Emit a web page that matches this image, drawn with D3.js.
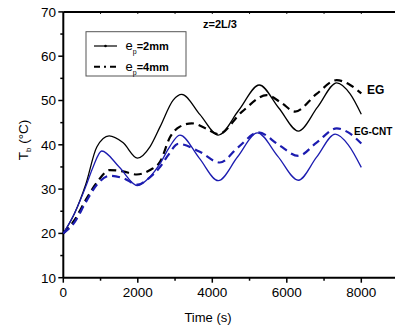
<!DOCTYPE html>
<html>
<head>
<meta charset="utf-8">
<script src="https://cdn.jsdelivr.net/npm/d3@7"></script>
<style>
  body { margin: 0; background: #fff; }
  text { font-family: "Liberation Sans", Arial, sans-serif; }
</style>
</head>
<body>
<script>
// values (time in s, T_b in degC)
var egThinTime  = [0, 300, 600, 900, 1230, 1600, 1990, 2330, 2600, 2950, 3180, 3670, 4160, 4710, 5260, 5785, 6310, 6825, 7340, 7700, 8000];
var egThinTemp  = [20, 24.5, 31, 39.5, 42, 40.5, 37, 39.6, 44.1, 50.1, 51.4, 46.8, 42.2, 47.8, 53.5, 48.3, 43.1, 48.5, 54, 51.5, 46.9];

var egThickTime = [0, 300, 600, 900, 1250, 1600, 1970, 2330, 2600, 2870, 3130, 3450, 3800, 4160, 4800, 5460, 5850, 6220, 6800, 7340, 7700, 8000];
var egThickTemp = [20, 23, 27.5, 31.5, 34.3, 34, 33.3, 34.3, 36.2, 41.8, 44.1, 44.85, 43.8, 42.4, 47.5, 51.2, 49.5, 47.5, 51.5, 54.6, 53.5, 51.6];

var cntThinTime = [0, 300, 600, 800, 1030, 1500, 1990, 2330, 2600, 2850, 3130, 3650, 4160, 4680, 5210, 5760, 6310, 6800, 7300, 7650, 8000];
var cntThinTemp = [20, 24.5, 30.5, 35, 38.6, 35, 30.8, 32.8, 35.8, 39.5, 42.2, 37, 31.9, 37.3, 42.7, 37.4, 32, 37.2, 42.4, 40, 34.9];

var cntThickTime = [0, 300, 600, 900, 1250, 1600, 2000, 2300, 2600, 2800, 3090, 3650, 4200, 4700, 5240, 5780, 6310, 6800, 7340, 7650, 8000];
var cntThickTemp = [20, 22.5, 27, 31, 33, 32.5, 31, 32.5, 35, 37.5, 40.2, 38.5, 36, 39.5, 42.8, 40, 37.5, 40.5, 43.7, 42.8, 40.3];

var xTicks = [0, 2000, 4000, 6000, 8000];
var yTicks = [10, 20, 30, 40, 50, 60, 70];

var width = 395, height = 328;
var blue = "#1c1cb0";

var svg = d3.select("body").append("svg")
    .attr("width", width)
    .attr("height", height);

var x = d3.scaleLinear().domain([0, 9000]).range([63.3, 63.3 + 9000 * 0.03725]);
var y = d3.scaleLinear().domain([10, 70]).range([277.7, 11.9]);

// frame lines (right side is cut off by the window)
svg.append("line").attr("x1", 63.3).attr("x2", width).attr("y1", y(70)).attr("y2", y(70))
    .attr("stroke", "#000").attr("stroke-width", 2);
svg.append("line").attr("x1", 63.3).attr("x2", width).attr("y1", y(10)).attr("y2", y(10))
    .attr("stroke", "#000").attr("stroke-width", 2);
svg.append("line").attr("x1", x(0)).attr("x2", x(0)).attr("y1", y(10)).attr("y2", y(70))
    .attr("stroke", "#000").attr("stroke-width", 2);

// x ticks
var xMinor = d3.range(1000, 9001, 2000);
svg.selectAll(".xmaj").data(xTicks).enter().append("line")
    .attr("x1", function(d){ return x(d); }).attr("x2", function(d){ return x(d); })
    .attr("y1", y(10)).attr("y2", y(10) + 5)
    .attr("stroke", "#000").attr("stroke-width", 1.5);
svg.selectAll(".xmin").data(xMinor).enter().append("line")
    .attr("x1", function(d){ return x(d); }).attr("x2", function(d){ return x(d); })
    .attr("y1", y(10)).attr("y2", y(10) + 3)
    .attr("stroke", "#000").attr("stroke-width", 1.5);
// tiny top ticks
svg.selectAll(".xtop").data(d3.range(1000, 9001, 1000)).enter().append("line")
    .attr("x1", function(d){ return x(d); }).attr("x2", function(d){ return x(d); })
    .attr("y1", y(70)).attr("y2", y(70) + 2)
    .attr("stroke", "#000").attr("stroke-width", 1);
svg.selectAll(".xlab").data(xTicks).enter().append("text")
    .attr("x", function(d){ return x(d); })
    .attr("y", 297)
    .attr("text-anchor", "middle")
    .attr("font-size", 13.5)
    .text(function(d){ return d; });

// y ticks
var yMinor = d3.range(15, 70, 10);
svg.selectAll(".ymaj").data(yTicks).enter().append("line")
    .attr("x1", x(0) - 5).attr("x2", x(0))
    .attr("y1", function(d){ return y(d); }).attr("y2", function(d){ return y(d); })
    .attr("stroke", "#000").attr("stroke-width", 1.5);
svg.selectAll(".ymin").data(yMinor).enter().append("line")
    .attr("x1", x(0) - 3).attr("x2", x(0))
    .attr("y1", function(d){ return y(d); }).attr("y2", function(d){ return y(d); })
    .attr("stroke", "#000").attr("stroke-width", 1.5);
svg.selectAll(".ylab").data(yTicks).enter().append("text")
    .attr("x", 56)
    .attr("y", function(d){ return y(d) + 4.8; })
    .attr("text-anchor", "end")
    .attr("font-size", 13.5)
    .text(function(d){ return d; });

// axis titles
svg.append("text").attr("x", 208).attr("y", 322)
    .attr("text-anchor", "middle").attr("font-size", 13).text("Time (s)");

var yt = svg.append("text")
    .attr("transform", "translate(28,140) rotate(-90)")
    .attr("text-anchor", "middle").attr("font-size", 13.5);
yt.append("tspan").text("T");
yt.append("tspan").attr("font-size", 8).attr("dy", 3).text("b");
yt.append("tspan").attr("dy", -3).text(" (\u00b0C)");

// curves
var line = d3.line()
    .x(function(d){ return x(d[0]); })
    .y(function(d){ return y(d[1]); })
    .curve(d3.curveMonotoneX);

var series = [
  { t: egThinTime,   v: egThinTemp,   color: "#000", dash: null,  w: 1.3 },
  { t: egThickTime,  v: egThickTemp,  color: "#000", dash: "8,5", w: 2.2 },
  { t: cntThinTime,  v: cntThinTemp,  color: blue,   dash: null,  w: 1.3 },
  { t: cntThickTime, v: cntThickTemp, color: blue,   dash: "8,5", w: 2.2 }
];

series.forEach(function(s){
  svg.append("path")
    .datum(d3.zip(s.t, s.v))
    .attr("d", line)
    .attr("fill", "none")
    .attr("stroke", s.color)
    .attr("stroke-width", s.w)
    .attr("stroke-dasharray", s.dash);
});

// annotations
svg.append("text").attr("x", 203).attr("y", 28)
    .attr("font-size", 11).attr("font-weight", "bold").text("z=2L/3");
svg.append("text").attr("x", 367).attr("y", 94)
    .attr("font-size", 12).attr("font-weight", "bold").text("EG");
svg.append("text").attr("x", 354).attr("y", 135)
    .attr("font-size", 10).attr("font-weight", "bold").text("EG-CNT");

// legend
svg.append("rect").attr("x", 86).attr("y", 31.7).attr("width", 100).attr("height", 44.3)
    .attr("fill", "#fff").attr("stroke", "#555").attr("stroke-width", 1);

svg.append("line").attr("x1", 94).attr("x2", 117).attr("y1", 46).attr("y2", 46)
    .attr("stroke", "#000").attr("stroke-width", 1.2);
svg.append("circle").attr("cx", 105.5).attr("cy", 46).attr("r", 1.3).attr("fill", "#000");

svg.append("line").attr("x1", 94).attr("x2", 117).attr("y1", 66.7).attr("y2", 66.7)
    .attr("stroke", "#000").attr("stroke-width", 2).attr("stroke-dasharray", "6,4,2,4");

var legendLabels = ["=2mm", "=4mm"];
legendLabels.forEach(function(lbl, i){
  var t = svg.append("text").attr("x", 125.5).attr("y", 50 + i * 21);
  t.append("tspan").attr("font-size", 13).text("e");
  t.append("tspan").attr("font-size", 7).attr("dy", 4).text("p");
  t.append("tspan").attr("font-size", 11).attr("font-weight", "bold").attr("dy", -4).text(lbl);
});
</script>
</body>
</html>
